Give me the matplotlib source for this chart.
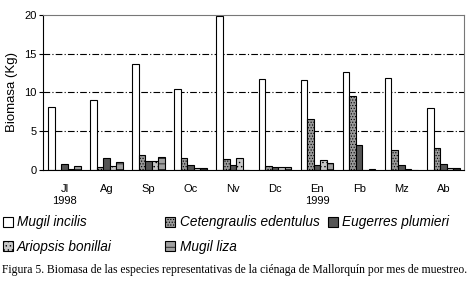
import numpy as np
import matplotlib.pyplot as plt
from matplotlib.patches import Patch

# Datos (biomasa en Kg por mes)
meses = ['Jl\n1998', 'Ag', 'Sp', 'Oc', 'Nv', 'Dc', 'En\n1999', 'Fb', 'Mz', 'Ab']
mugil_incilis = [8.1, 9.0, 13.6, 10.5, 19.8, 11.7, 11.55, 12.6, 11.85, 8.0]
cetengraulis = [0.0, 0.4, 1.9, 1.55, 1.4, 0.55, 6.6, 9.5, 2.6, 2.8]
eugerres = [0.8, 1.55, 1.15, 0.65, 0.65, 0.4, 0.7, 3.2, 0.65, 0.8]
ariopsis = [0.15, 0.5, 1.15, 0.25, 1.55, 0.4, 1.3, 0.0, 0.1, 0.25]
mugil_liza = [0.5, 1.05, 1.65, 0.25, 0.0, 0.4, 0.9, 0.1, 0.0, 0.25]

series = [
    ('Mugil incilis', mugil_incilis, 'white', None),
    ('Cetengraulis edentulus', cetengraulis, '#9a9a9a', '......'),
    ('Eugerres plumieri', eugerres, '#555555', None),
    ('Ariopsis bonillai', ariopsis, '#c8c8c8', '....'),
    ('Mugil liza', mugil_liza, '#a0a0a0', '---'),
]

plt.rcParams['font.family'] = ['Liberation Sans', 'DejaVu Sans']
plt.rcParams['hatch.linewidth'] = 0.5

fig = plt.figure(figsize=(4.71, 2.88), dpi=100)
ax = fig.add_axes([0.092, 0.409, 0.894, 0.540])

x = np.arange(len(meses))
w = 0.155
for i, (nombre, vals, color, hatch) in enumerate(series):
    ax.bar(x + (i - 2) * w, vals, w, color=color, edgecolor='black',
           linewidth=0.8, hatch=hatch, label=nombre)

ax.set_xlim(-0.5, len(meses) - 0.5)
ax.set_ylim(0, 20)
ax.set_yticks([0, 5, 10, 15, 20])
for yv in [5, 10, 15]:
    ax.axhline(yv, color='black', linestyle=(0, (6, 2, 1, 2)), linewidth=0.8, zorder=0)

ax.set_xticks(x)
ax.set_xticklabels(meses, fontsize=8, linespacing=1.3)
ax.tick_params(axis='x', length=0, pad=10)
ax.tick_params(axis='y', length=3, labelsize=8, pad=2)
ax.set_ylabel('Biomasa (Kg)', fontsize=9.5, labelpad=4)

for s in ['top', 'right']:
    ax.spines[s].set_color('#777777')
for s in ['left', 'bottom']:
    ax.spines[s].set_color('black')

# Leyenda en tres columnas
handles = {n: Patch(facecolor=c, edgecolor='black', hatch=h, linewidth=0.8)
           for n, v, c, h in series}
columnas = [(0.0, ['Mugil incilis', 'Ariopsis bonillai']),
            (0.345, ['Cetengraulis edentulus', 'Mugil liza']),
            (0.69, ['Eugerres plumieri'])]
for xc, nombres in columnas:
    fig.legend([handles[n] for n in nombres], nombres, loc='upper left',
               bbox_to_anchor=(xc, 0.262), frameon=False,
               prop={'style': 'italic', 'size': 9.8},
               handlelength=0.75, handleheight=0.75, handletextpad=0.3,
               labelspacing=0.8, borderpad=0.2, borderaxespad=0)

fig.text(0.005, 0.062, 'Figura 5. Biomasa de las especies representativas de la ciénaga '
         'de Mallorquín por mes de muestreo.', family='Liberation Serif',
         fontsize=8.4, va='center', ha='left')

fig.savefig('out.png', dpi=100)
